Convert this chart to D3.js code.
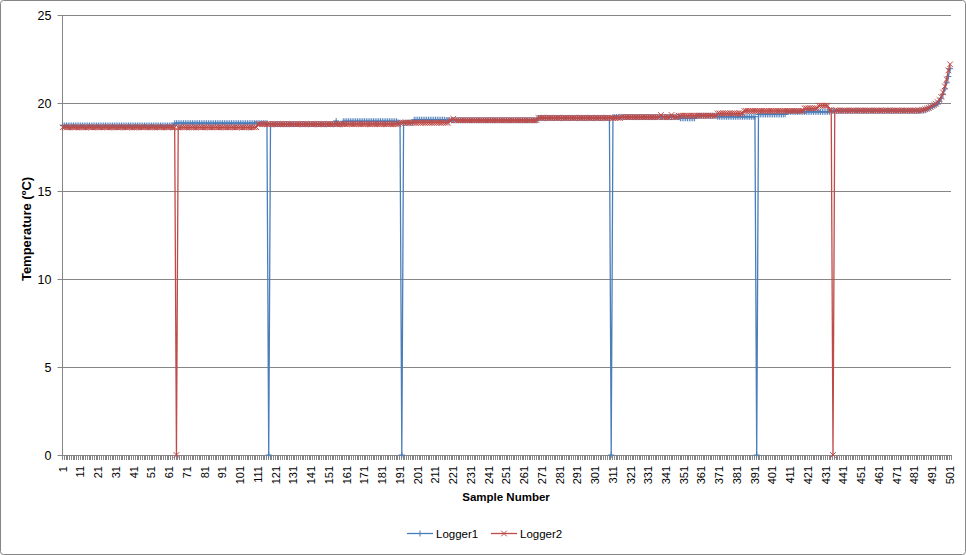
<!DOCTYPE html>
<html><head><meta charset="utf-8">
<script src="https://cdn.jsdelivr.net/npm/d3@7"></script>
<style>body{margin:0;background:#fff}svg{display:block}</style>
</head><body><svg id="c" width="966" height="555"></svg>
<script>
// ---- data ----
const sampleCount = 501;
const seriesNames = ["Logger1", "Logger2"];
// runs of constant reading: [firstSample, lastSample, temperature]
const logger1Runs = [
  [1,63,18.72],[64,116,18.85],[117,117,0],[118,154,18.8],[155,155,18.98],
  [156,158,18.8],[159,189,18.96],[190,191,18.88],[192,192,0],[193,198,18.88],
  [199,216,19.05],[217,268,19.02],[269,309,19.15],[310,310,0],[311,348,19.2],
  [349,357,19.13],[358,369,19.27],[370,391,19.22],[392,392,0],[393,408,19.35],
  [409,433,19.5],[434,484,19.55]
];
const logger2Runs = [
  [1,64,18.62],[65,65,0],[66,110,18.62],[111,190,18.8],[191,218,18.88],
  [219,220,19.02],[221,221,19.1],[222,268,19.02],[269,315,19.15],[316,337,19.2],
  [338,338,19.32],[339,343,19.2],[344,344,19.32],[345,347,19.2],[348,369,19.28],
  [370,384,19.41],[385,418,19.55],[419,426,19.7],[427,432,19.85],[433,434,19.6],
  [435,435,0],[436,484,19.57]
];
// final warm-up, samples 485..501
const tailStart = 485;
const logger1Tail = [19.57,19.58,19.6,19.65,19.7,19.75,19.8,19.86,19.92,19.98,20.1,20.28,20.5,20.8,21.15,21.5,21.95];
const logger2Tail = [19.6,19.62,19.65,19.68,19.72,19.78,19.84,19.9,19.96,20.05,20.17,20.35,20.6,20.95,21.35,21.85,22.2];
const yTicks = [0,5,10,15,20,25];
const xLabelEvery = 10;

function expand(runs, tail){
  const out = [];
  runs.forEach(([a,b,v]) => { for(let s=a;s<=b;s++) out.push({s, v}); });
  tail.forEach((v,i) => out.push({s: tailStart+i, v}));
  return out;
}
const series = [
  {name: seriesNames[0], data: expand(logger1Runs, logger1Tail), color: "#4A7EBB", marker: "M-3,0H3M0,-3V3"},
  {name: seriesNames[1], data: expand(logger2Runs, logger2Tail), color: "#BE4B48", marker: "M-2.8,-2.8L2.8,2.8M-2.8,2.8L2.8,-2.8"}
];

const svg = d3.select("#c");
const L = 62, R = 951, T = 15, B = 455;
const categories = d3.range(1, sampleCount+1);
const x = d3.scalePoint().domain(categories).range([L, R]).padding(0.5);
const y = d3.scaleLinear().domain([0,25]).range([B, T]);
const grey = "#868686";
const font = "'Liberation Sans', Arial, sans-serif";

// chart border
svg.append("rect").attr("x",0.5).attr("y",0.5).attr("width",965).attr("height",554)
  .attr("rx",3).attr("fill","#fff").attr("stroke",grey);

// gridlines
svg.append("g").selectAll("line").data(yTicks.filter(d=>d>0)).join("line")
  .attr("x1",L).attr("x2",R).attr("y1",d=>Math.round(y(d))+0.5).attr("y2",d=>Math.round(y(d))+0.5)
  .attr("stroke",grey).attr("stroke-width",1);

// y axis
const yAxis = svg.append("g").attr("transform",`translate(${L+0.5},0)`)
  .call(d3.axisLeft(y).tickValues(yTicks).tickSize(5).tickPadding(6).tickFormat(d3.format("d")));
yAxis.selectAll("path,line").attr("stroke",grey);
yAxis.select(".domain").attr("d",`M0,${T}V${B}`);
yAxis.selectAll("text").attr("font-family",font).attr("font-size",12.5).attr("fill","#000");

// x axis: ticks between categories
const step = x.step();
const bounds = d3.range(sampleCount+1).map(i => L + i*step);
const xg = svg.append("g");
xg.selectAll("line.t").data(bounds).join("line").attr("class","t")
  .attr("x1",d=>Math.round(d)+0.5).attr("x2",d=>Math.round(d)+0.5).attr("y1",B).attr("y2",B+5)
  .attr("stroke",grey).attr("stroke-width",1);
xg.append("line").attr("x1",L).attr("x2",R).attr("y1",B+0.5).attr("y2",B+0.5).attr("stroke",grey);
xg.selectAll("text").data(categories.filter(c => (c-1)%xLabelEvery===0)).join("text")
  .attr("transform",d=>`translate(${x(d)+3.8},${B+11}) rotate(-90)`)
  .attr("text-anchor","end").attr("font-family",font).attr("font-size",11).attr("fill","#000")
  .text(d=>d);

// series
const line = d3.line().x(d=>x(d.s)).y(d=>y(d.v));
series.forEach(sr => {
  const g = svg.append("g");
  g.append("path").attr("d", line(sr.data)).attr("fill","none").attr("stroke",sr.color)
    .attr("stroke-width",1.3).attr("stroke-linejoin","round");
  g.selectAll("path.m").data(sr.data).join("path").attr("class","m")
    .attr("transform",d=>`translate(${x(d.s)},${y(d.v)})`).attr("d",sr.marker)
    .attr("fill","none").attr("stroke",sr.color).attr("stroke-width",1);
});

// axis titles
svg.append("text").attr("x",506).attr("y",501).attr("text-anchor","middle")
  .attr("font-family",font).attr("font-weight","bold").attr("font-size",11.5).text("Sample Number");
svg.append("text").attr("transform",`translate(31,229) rotate(-90)`).attr("text-anchor","middle")
  .attr("font-family",font).attr("font-weight","bold").attr("font-size",13).text("Temperature (ºC)");

// legend
const lg = svg.append("g");
[[407,series[0]],[491,series[1]]].forEach(([lx,sr]) => {
  lg.append("line").attr("x1",lx).attr("x2",lx+26).attr("y1",533.5).attr("y2",533.5).attr("stroke",sr.color).attr("stroke-width",1.3);
  lg.append("path").attr("transform",`translate(${lx+13},533.5)`).attr("d",sr.marker).attr("fill","none").attr("stroke",sr.color);
  lg.append("text").attr("x",lx+29).attr("y",538).attr("font-family",font).attr("font-size",11.5).text(sr.name);
});
</script></body></html>
